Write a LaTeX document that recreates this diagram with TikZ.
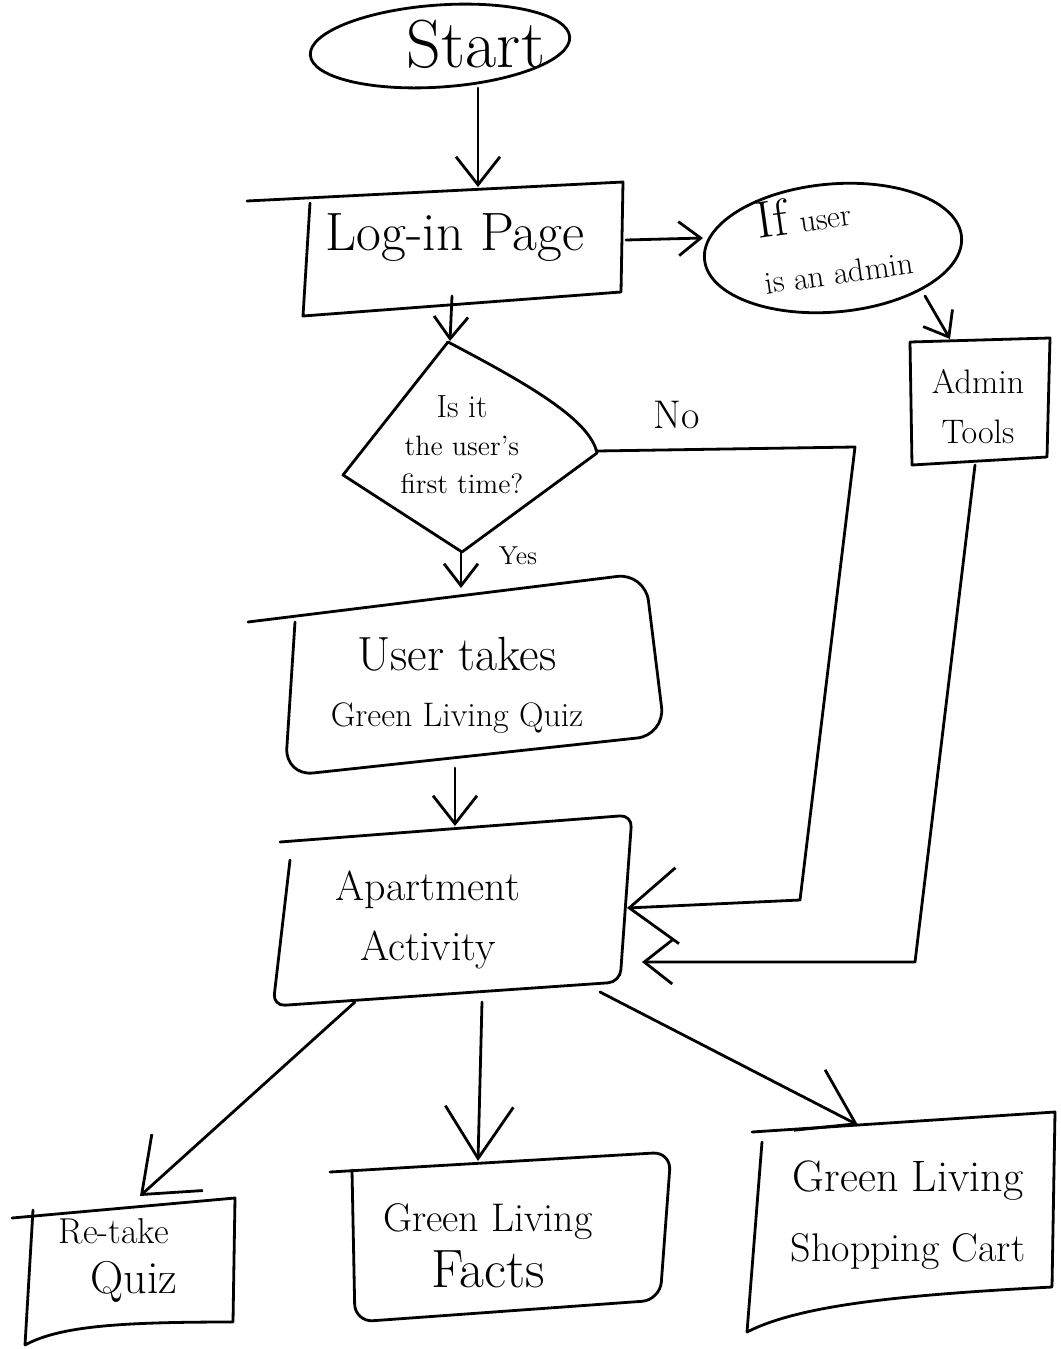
\documentclass[tikz,border=0pt]{standalone}
\usetikzlibrary{arrows.meta}
\newcommand\fsz[2]{\fontsize{#1}{#2}\selectfont}
\begin{document}
\begin{tikzpicture}[x=0.5pt,y=-0.5pt,line width=1.4pt,line cap=round,line join=round,
  outline/.style={draw=black},
  conn/.style={draw=black},
  lbl/.style={inner sep=0pt,align=center,text=black},
  tipA/.style={-{Straight Barb[length=14pt,width=22pt]}},
  tipB/.style={-{Straight Barb[length=11pt,width=17pt]}},
  tipC/.style={-{Straight Barb[length=24pt,width=38pt]}},
  tipD/.style={-{Straight Barb[length=26pt,width=34pt]}}]
\useasboundingbox (0,0) rectangle (1060,1349);

% ---------- shapes ----------
\draw[outline,rotate around={4:(440,46)}] (440,46) ellipse [x radius=130,y radius=41];
\draw[outline] (247,201) -- (623,182) -- (621,292) -- (303,316) -- (310,203);
\draw[outline,rotate around={5:(833,248)}] (833,248) ellipse [x radius=129,y radius=64];
\draw[outline] (910,342) -- (1050,338) -- (1047,457) -- (912,465) -- cycle;
\draw[outline] (448,342) .. controls (530,385) and (590,420) .. (597,453) -- (462,552) -- (343,475) -- cycle;
\draw[outline,rounded corners=14pt] (248,622) -- (645,573) -- (665,735) -- (285,776) -- (295,622);
\draw[outline,rounded corners=6pt] (280,842) -- (632,815) -- (620,982) -- (273,1006) -- (290,860);
\draw[outline] (12,1218) -- (235,1198) -- (233,1322) .. controls (120,1322) and (60,1326) .. (25,1345) -- (33,1210);
\draw[outline,rounded corners=9pt] (330,1172) -- (671,1152) -- (660,1300) -- (355,1322) -- (352,1170);
\draw[outline] (752,1132) -- (1055,1112) -- (1052,1287) .. controls (900,1295) and (800,1305) .. (747,1332) -- (762,1142);

% ---------- texts ----------
\node[lbl,font=\fsz{34}{40}] (start) at (476,44) {Start};
\node[lbl,font=\fsz{27}{32}] (login) at (455,238) {Log-in Page};
\node[lbl,align=left,rotate=8,font=\fsz{16}{24}] (ifadmin) at (834,238) {{\fsz{26}{24}If}\hspace{6pt}user\\[4pt]is an admin};
\node[lbl,font=\fsz{17}{25}] (tools) at (978,407) {Admin\\Tools};
\node[lbl,font=\fsz{14}{19}] (first) at (462,445) {{\fsz{16}{19}Is it}\\the user's\\first time?};
\node[lbl,font=\fsz{20}{20}] (no) at (677,415) {No};
\node[lbl,font=\fsz{13}{13}] (yes) at (518,556) {Yes};
\node[lbl,font=\fsz{17}{28}] (quiz) at (457,685) {{\fsz{24}{28}User takes}\\Green Living Quiz};
\node[lbl,font=\fsz{21}{30}] (apt) at (428,920) {Apartment\\Activity};
\node[lbl,align=left,font=\fsz{18}{25}] (retake) at (118,1260) {Re-take\\\hspace*{16pt}{\fsz{23}{25}Quiz}};
\node[lbl,font=\fsz{20}{28}] (facts) at (488,1246) {Green Living\\{\fsz{27}{28}Facts}};
\node[lbl,font=\fsz{20}{35}] (cart) at (908,1215) {{\fsz{22}{35}Green Living}\\Shopping Cart};

% ---------- connector ends ----------
\coordinate (startS) at (478,88);
\coordinate (loginN) at (478,187);
\coordinate (loginE) at (626,240);
\coordinate (ifW) at (703,238);
\coordinate (ifSE) at (925,296);
\coordinate (toolsN) at (950,339);
\coordinate (loginS) at (452,296);
\coordinate (firstN) at (450,341);
\coordinate (firstE) at (597,451);
\coordinate (noC1) at (855,447);
\coordinate (noC2) at (800,900);
\coordinate (aptE1) at (627,908);
\coordinate (toolsS) at (975,465);
\coordinate (adC1) at (915,962);
\coordinate (aptE2) at (642,962);
\coordinate (firstS) at (461,552);
\coordinate (quizN) at (461,588);
\coordinate (quizS) at (455,768);
\coordinate (aptN) at (455,826);
\coordinate (aptS1) at (355,1002);
\coordinate (retakeN) at (140,1196);
\coordinate (aptS2) at (482,1002);
\coordinate (factsN) at (478,1161);
\coordinate (aptS3) at (600,992);
\coordinate (cartN) at (858,1125);

% ---------- connectors ----------
\draw[conn,tipA] (startS) -- (loginN);
\draw[conn,tipB] (loginE) -- (ifW);
\draw[conn,tipB] (ifSE) -- (toolsN);
\draw[conn,tipB] (loginS) -- (firstN);
\draw[conn,tipC] (firstE) -- (noC1) -- (noC2) -- (aptE1);
\draw[conn,tipA] (toolsS) -- (adC1) -- (aptE2);
\draw[conn,tipB] (firstS) -- (quizN);
\draw[conn,tipA] (quizS) -- (aptN);
\draw[conn,tipC] (aptS1) -- (retakeN);
\draw[conn,tipD] (aptS2) -- (factsN);
\draw[conn,tipD] (aptS3) -- (cartN);
\end{tikzpicture}
\end{document}
